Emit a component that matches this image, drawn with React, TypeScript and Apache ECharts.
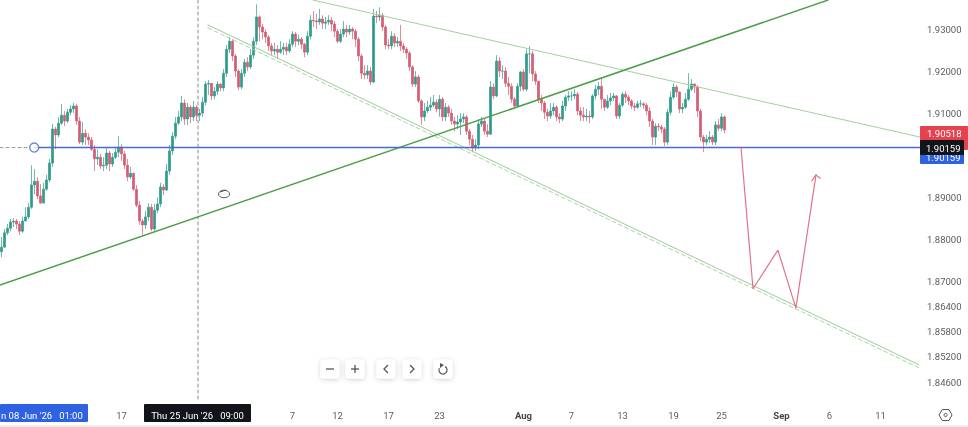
import React, { useEffect, useRef } from "react";
import * as echarts from "echarts";

const opens = [
  1.8770,1.8781,1.8815,1.8826,1.8841,1.8843,1.8836,1.8819,1.8843,1.8853,
  1.8876,1.8929,1.8938,1.8903,1.8886,1.8919,1.8941,1.8981,1.9062,1.9048,
  1.9076,1.9095,1.9081,1.9102,1.9110,1.9117,1.9081,1.9031,1.9052,1.9043,
  1.9036,1.9014,1.8991,1.8995,1.8974,1.8976,1.9005,1.8979,1.8995,1.9007,
  1.9019,1.9003,1.8976,1.8948,1.8957,1.8919,1.8881,1.8843,1.8834,1.8853,
  1.8876,1.8824,1.8869,1.8884,1.8924,1.8917,1.8962,1.9010,1.9045,1.9076,
  1.9091,1.9124,1.9086,1.9114,1.9091,1.9114,1.9095,1.9100,1.9126,1.9169,
  1.9171,1.9141,1.9152,1.9169,1.9160,1.9195,1.9252,1.9271,1.9236,1.9200,
  1.9162,1.9195,1.9221,1.9210,1.9238,1.9271,1.9329,1.9305,1.9293,1.9281,
  1.9260,1.9248,1.9252,1.9245,1.9252,1.9257,1.9248,1.9264,1.9288,1.9271,
  1.9276,1.9264,1.9245,1.9283,1.9321,1.9319,1.9317,1.9324,1.9314,1.9317,
  1.9321,1.9312,1.9295,1.9271,1.9288,1.9300,1.9293,1.9300,1.9295,1.9276,
  1.9236,1.9195,1.9191,1.9200,1.9174,1.9331,1.9329,1.9333,1.9305,1.9262,
  1.9260,1.9283,1.9267,1.9271,1.9260,1.9252,1.9243,1.9210,1.9169,1.9186,
  1.9129,1.9091,1.9105,1.9114,1.9119,1.9126,1.9110,1.9133,1.9091,1.9114,
  1.9100,1.9081,1.9074,1.9079,1.9086,1.9091,1.9057,1.9038,1.9017,1.9024,
  1.9074,1.9081,1.9057,1.9050,1.9162,1.9141,1.9224,1.9200,1.9200,1.9171,
  1.9164,1.9133,1.9117,1.9164,1.9198,1.9157,1.9241,1.9241,1.9193,1.9176,
  1.9133,1.9124,1.9102,1.9093,1.9105,1.9114,1.9091,1.9086,1.9117,1.9138,
  1.9141,1.9141,1.9145,1.9105,1.9095,1.9091,1.9093,1.9091,1.9141,1.9157,
  1.9164,1.9133,1.9114,1.9129,1.9136,1.9141,1.9093,1.9119,1.9145,1.9138,
  1.9129,1.9117,1.9114,1.9122,1.9122,1.9119,1.9105,1.9081,1.9043,1.9069,
  1.9067,1.9062,1.9031,1.9102,1.9138,1.9162,1.9150,1.9110,1.9114,1.9133,
  1.9157,1.9169,1.9162,1.9105,1.9043,1.9031,1.9038,1.9043,1.9031,1.9072,
  1.9064,1.9091,
];
const closes = [
  1.8781,1.8815,1.8826,1.8841,1.8843,1.8836,1.8819,1.8843,1.8853,1.8876,
  1.8929,1.8938,1.8903,1.8886,1.8919,1.8941,1.8981,1.9062,1.9048,1.9076,
  1.9095,1.9081,1.9102,1.9110,1.9117,1.9081,1.9031,1.9052,1.9043,1.9036,
  1.9014,1.8991,1.8995,1.8974,1.8976,1.9005,1.8979,1.8995,1.9007,1.9019,
  1.9003,1.8976,1.8948,1.8957,1.8919,1.8881,1.8843,1.8834,1.8853,1.8876,
  1.8824,1.8869,1.8884,1.8924,1.8917,1.8962,1.9010,1.9045,1.9076,1.9091,
  1.9124,1.9086,1.9114,1.9091,1.9114,1.9095,1.9100,1.9126,1.9169,1.9171,
  1.9141,1.9152,1.9169,1.9160,1.9195,1.9252,1.9271,1.9236,1.9200,1.9162,
  1.9195,1.9221,1.9210,1.9238,1.9271,1.9329,1.9305,1.9293,1.9281,1.9260,
  1.9248,1.9252,1.9245,1.9252,1.9257,1.9248,1.9264,1.9288,1.9271,1.9276,
  1.9264,1.9245,1.9283,1.9321,1.9319,1.9317,1.9324,1.9314,1.9317,1.9321,
  1.9312,1.9295,1.9271,1.9288,1.9300,1.9293,1.9300,1.9295,1.9276,1.9236,
  1.9195,1.9191,1.9200,1.9174,1.9331,1.9329,1.9333,1.9305,1.9262,1.9260,
  1.9283,1.9267,1.9271,1.9260,1.9252,1.9243,1.9210,1.9169,1.9186,1.9129,
  1.9091,1.9105,1.9114,1.9119,1.9126,1.9110,1.9133,1.9091,1.9114,1.9100,
  1.9081,1.9074,1.9079,1.9086,1.9091,1.9057,1.9038,1.9017,1.9024,1.9074,
  1.9081,1.9057,1.9050,1.9162,1.9141,1.9224,1.9200,1.9200,1.9171,1.9164,
  1.9133,1.9117,1.9164,1.9198,1.9157,1.9241,1.9241,1.9193,1.9176,1.9133,
  1.9124,1.9102,1.9093,1.9105,1.9114,1.9091,1.9086,1.9117,1.9138,1.9141,
  1.9141,1.9145,1.9105,1.9095,1.9091,1.9093,1.9091,1.9141,1.9157,1.9164,
  1.9133,1.9114,1.9129,1.9136,1.9141,1.9093,1.9119,1.9145,1.9138,1.9129,
  1.9117,1.9114,1.9122,1.9122,1.9119,1.9105,1.9081,1.9043,1.9069,1.9067,
  1.9062,1.9031,1.9102,1.9138,1.9162,1.9150,1.9110,1.9114,1.9133,1.9157,
  1.9169,1.9162,1.9105,1.9043,1.9031,1.9038,1.9043,1.9031,1.9072,1.9064,
  1.9091,1.9060,
];
const highs = [
  1.8805,1.8824,1.8836,1.8848,1.8850,1.8848,1.8843,1.8853,1.8876,1.8886,
  1.8976,1.8967,1.8948,1.8931,1.8934,1.8953,1.8991,1.9074,1.9067,1.9091,
  1.9122,1.9105,1.9110,1.9119,1.9124,1.9122,1.9091,1.9079,1.9062,1.9052,
  1.9043,1.9024,1.9014,1.9003,1.8995,1.9019,1.9010,1.9005,1.9019,1.9045,
  1.9026,1.9010,1.8991,1.8972,1.8955,1.8929,1.8891,1.8848,1.8867,1.8886,
  1.8884,1.8884,1.8900,1.8934,1.8931,1.8979,1.9024,1.9055,1.9091,1.9105,
  1.9141,1.9133,1.9124,1.9119,1.9129,1.9119,1.9110,1.9138,1.9176,1.9179,
  1.9171,1.9162,1.9176,1.9171,1.9205,1.9262,1.9281,1.9276,1.9241,1.9205,
  1.9205,1.9229,1.9233,1.9252,1.9281,1.9359,1.9333,1.9312,1.9300,1.9286,
  1.9267,1.9267,1.9262,1.9271,1.9267,1.9267,1.9276,1.9295,1.9293,1.9286,
  1.9281,1.9267,1.9295,1.9333,1.9343,1.9336,1.9348,1.9333,1.9329,1.9333,
  1.9329,1.9319,1.9300,1.9300,1.9319,1.9310,1.9310,1.9305,1.9300,1.9281,
  1.9241,1.9214,1.9214,1.9210,1.9348,1.9343,1.9352,1.9338,1.9310,1.9276,
  1.9295,1.9290,1.9281,1.9310,1.9267,1.9257,1.9248,1.9214,1.9200,1.9191,
  1.9133,1.9124,1.9129,1.9138,1.9143,1.9133,1.9143,1.9138,1.9124,1.9119,
  1.9110,1.9091,1.9095,1.9100,1.9100,1.9095,1.9062,1.9048,1.9038,1.9086,
  1.9091,1.9086,1.9074,1.9176,1.9171,1.9238,1.9233,1.9214,1.9210,1.9186,
  1.9171,1.9138,1.9171,1.9200,1.9205,1.9252,1.9260,1.9248,1.9200,1.9176,
  1.9143,1.9129,1.9110,1.9124,1.9124,1.9119,1.9100,1.9129,1.9143,1.9152,
  1.9152,1.9157,1.9150,1.9114,1.9114,1.9110,1.9105,1.9145,1.9167,1.9174,
  1.9186,1.9133,1.9143,1.9148,1.9148,1.9143,1.9124,1.9150,1.9152,1.9143,
  1.9133,1.9124,1.9129,1.9131,1.9126,1.9124,1.9114,1.9086,1.9076,1.9076,
  1.9072,1.9067,1.9110,1.9152,1.9171,1.9167,1.9152,1.9124,1.9148,1.9195,
  1.9181,1.9171,1.9167,1.9110,1.9048,1.9048,1.9057,1.9048,1.9081,1.9086,
  1.9100,1.9095,
];
const lows = [
  1.8757,1.8781,1.8810,1.8819,1.8829,1.8824,1.8810,1.8815,1.8843,1.8848,
  1.8872,1.8907,1.8895,1.8884,1.8886,1.8915,1.8936,1.8972,1.9014,1.9043,
  1.9072,1.9069,1.9076,1.9095,1.9100,1.9072,1.9026,1.9024,1.9024,1.9024,
  1.9010,1.8962,1.8976,1.8967,1.8962,1.8967,1.8962,1.8972,1.8991,1.8995,
  1.8986,1.8967,1.8938,1.8943,1.8915,1.8876,1.8834,1.8810,1.8824,1.8843,
  1.8819,1.8819,1.8862,1.8876,1.8905,1.8915,1.8953,1.9000,1.9038,1.9072,
  1.9081,1.9072,1.9072,1.9076,1.9081,1.9081,1.9081,1.9091,1.9119,1.9143,
  1.9131,1.9133,1.9143,1.9152,1.9152,1.9186,1.9243,1.9224,1.9186,1.9155,
  1.9157,1.9186,1.9200,1.9205,1.9229,1.9262,1.9271,1.9276,1.9267,1.9248,
  1.9238,1.9238,1.9229,1.9241,1.9238,1.9238,1.9243,1.9257,1.9257,1.9262,
  1.9252,1.9233,1.9238,1.9276,1.9305,1.9300,1.9310,1.9300,1.9300,1.9310,
  1.9295,1.9281,1.9267,1.9267,1.9281,1.9281,1.9286,1.9276,1.9257,1.9224,
  1.9181,1.9181,1.9181,1.9167,1.9171,1.9314,1.9319,1.9295,1.9252,1.9252,
  1.9252,1.9257,1.9257,1.9248,1.9243,1.9229,1.9200,1.9162,1.9162,1.9124,
  1.9072,1.9081,1.9100,1.9105,1.9114,1.9102,1.9091,1.9081,1.9081,1.9091,
  1.9072,1.9057,1.9062,1.9048,1.9076,1.9048,1.9024,1.9007,1.9010,1.9014,
  1.9067,1.9048,1.9043,1.9048,1.9133,1.9138,1.9186,1.9181,1.9162,1.9143,
  1.9124,1.9110,1.9114,1.9152,1.9152,1.9152,1.9195,1.9176,1.9167,1.9124,
  1.9105,1.9086,1.9081,1.9086,1.9095,1.9081,1.9076,1.9081,1.9105,1.9129,
  1.9129,1.9133,1.9095,1.9081,1.9081,1.9081,1.9076,1.9086,1.9133,1.9143,
  1.9110,1.9105,1.9110,1.9119,1.9129,1.9086,1.9086,1.9114,1.9124,1.9119,
  1.9110,1.9105,1.9110,1.9114,1.9110,1.9095,1.9067,1.9024,1.9024,1.9057,
  1.9052,1.9022,1.9024,1.9095,1.9133,1.9138,1.9100,1.9100,1.9110,1.9129,
  1.9152,1.9148,1.9091,1.9033,1.9007,1.9024,1.9029,1.9024,1.9024,1.9057,
  1.9057,1.9052,
];

const slotCount = 307;
const priceMin = 1.84125;
const priceMax = 1.93692;

const yTicks = [1.93, 1.92, 1.91, 1.89, 1.88, 1.87, 1.864, 1.858, 1.852, 1.846];
const xTickSlots = [40, 97, 112, 129, 146, 174, 190, 207, 224, 240, 260, 276, 293];
const xTickLabels = ["17", "7", "12", "17", "23", "Aug", "7", "13", "19", "25", "Sep", "6", "11"];

// annotations: [slot, price]
const risingLine = [[0, 1.8691], [276, 1.9369]];
const upperChannel = [[104.3, 1.9369], [306.7, 1.9043]];
const lowerChannel = [[69.3, 1.931], [306.3, 1.8501]];
const lowerDashed = [[69.3, 1.9303], [306.3, 1.8494]];
const levelLine = [[11.7, 1.9018], [307, 1.9018]];
const levelHandle = [[11.4, 1.9018]];
const crossH = [[0, 1.9018], [10, 1.9018]];
const crossV = [[66, 1.93692], [66, 1.84125]];
const forecast = [[247, 1.9018], [251, 1.8682], [259.3, 1.8774], [265.3, 1.8636], [272, 1.8953]];
const arrowHead = [[270.6, 1.8939], [272, 1.8953], [273.4, 1.8945]];

const redTag = "1.90518";
const levelTag = "1.90159";
const leftDateTag = "n 08 Jun '26   01:00";
const crossDateTag = "Thu 25 Jun '26   09:00";

const FONT = "Roboto, 'Liberation Sans', sans-serif";

function lineSeries(data: number[][], color: string, width: number, type: any = "solid", z = 3) {
  return {
    type: "line",
    xAxisIndex: 1,
    yAxisIndex: 0,
    data,
    showSymbol: false,
    symbol: "none",
    silent: true,
    z,
    lineStyle: { color, width, type, cap: "round" },
  };
}

function button(cx: number, cy: number) {
  return {
    type: "rect",
    z: 50,
    shape: { x: cx - 9.5, y: cy - 9.5, width: 19, height: 19, r: 3 },
    style: { fill: "#ffffff", shadowBlur: 5, shadowColor: "rgba(0,0,0,0.18)", shadowOffsetY: 1 },
  };
}
function tagRect(x: number, y: number, w: number, h: number, fill: string, z: number) {
  return { type: "rect", z, shape: { x, y, width: w, height: h, r: 1 }, style: { fill } };
}
function tagText(x: number, y: number, text: string, z: number, align = "left") {
  return {
    type: "text",
    z,
    x,
    y,
    style: { text, fill: "#ffffff", font: `9.5px ${FONT}`, textAlign: align, textVerticalAlign: "middle" },
  };
}
const icon = { stroke: "#555555", lineWidth: 1.3, fill: "none" };

export default function App() {
  const ref = useRef<HTMLDivElement>(null);
  useEffect(() => {
    document.body.style.margin = "0";
    const chart = echarts.init(ref.current!, undefined, { renderer: "svg" });
    const labelAt = new Map(xTickSlots.map((s, i) => [s, xTickLabels[i]]));
    chart.setOption({
      animation: false,
      backgroundColor: "#ffffff",
      grid: { left: 0, top: 0, width: 921, height: 402, containLabel: false },
      xAxis: [
        {
          type: "category",
          data: Array.from({ length: slotCount }, (_, i) => String(i)),
          boundaryGap: true,
          axisLine: { show: false },
          axisTick: { show: false },
          splitLine: { show: false },
          axisLabel: {
            interval: (i: number) => labelAt.has(i),
            margin: 8,
            color: "#5c5c5c",
            fontSize: 9.5,
            fontFamily: FONT,
            formatter: (_: string, i: number) => {
              const t = labelAt.get(i) ?? "";
              return t === "Aug" || t === "Sep" ? `{b|${t}}` : t;
            },
            rich: { b: { fontWeight: "bold", color: "#444444", fontSize: 9.5, fontFamily: FONT } },
          },
        },
        { type: "value", min: 0, max: slotCount, show: false },
      ],
      yAxis: {
        type: "value",
        position: "right",
        min: priceMin,
        max: priceMax,
        axisLine: { show: false },
        axisTick: { show: false },
        splitLine: { show: false },
        axisLabel: {
          customValues: yTicks,
          margin: 6,
          color: "#5c5c5c",
          fontSize: 9.5,
          fontFamily: FONT,
          formatter: (v: number) => v.toFixed(5),
        },
      },
      series: [
        {
          type: "candlestick",
          xAxisIndex: 0,
          yAxisIndex: 0,
          barWidth: 2,
          silent: true,
          z: 2,
          itemStyle: {
            color: "#2e9c8b",
            color0: "#d65c72",
            borderColor: "#2e9c8b",
            borderColor0: "#d65c72",
            borderWidth: 0.7,
          },
          data: closes.map((c, i) => [opens[i], c, lows[i], highs[i]]),
        },
        lineSeries(crossH, "#9a9a9a", 1, [3, 3], 1),
        lineSeries(crossV, "#8a8a8a", 1, [3, 3], 1),
        lineSeries(upperChannel, "#a5cf9f", 1),
        lineSeries(lowerChannel, "#9ccb97", 1),
        lineSeries(lowerDashed, "#a9d3a4", 1, [4, 3]),
        lineSeries(risingLine, "#4f9e4a", 1.5),
        lineSeries(levelLine, "#4b6cc6", 1.6, "solid", 4),
        lineSeries(forecast, "#e0738a", 1.2, "solid", 4),
        lineSeries(arrowHead, "#e0738a", 1.2, "solid", 4),
        {
          type: "scatter",
          xAxisIndex: 1,
          yAxisIndex: 0,
          data: levelHandle,
          symbol: "circle",
          symbolSize: 9,
          silent: true,
          z: 5,
          itemStyle: { color: "#ffffff", borderColor: "#4b6cc6", borderWidth: 1.4 },
        },
      ],
      graphic: [
        { type: "rect", z: 40, shape: { x: 0, y: 425, width: 968, height: 2 }, style: { fill: "#eeeeee" } },
        // crosshair cursor
        { type: "ellipse", z: 40, shape: { cx: 224, cy: 194, rx: 5.5, ry: 3.8 }, style: { fill: "#ffffff", stroke: "#555555", lineWidth: 1 } },
        { type: "line", z: 40, shape: { x1: 220, y1: 192, x2: 226, y2: 190 }, style: { stroke: "#555555", lineWidth: 1 } },
        // axis tags
        tagRect(920, 126, 48, 24, "#e5424f", 60),
        tagText(927, 133, redTag, 61),
        tagRect(920, 152, 44, 12, "#2f62e0", 62),
        tagText(926, 157.5, levelTag, 63),
        tagRect(920, 140, 44, 15, "#111418", 64),
        tagText(926, 148, levelTag, 65),
        tagRect(0, 404, 88, 18, "#2f62e0", 60),
        tagText(1, 415, leftDateTag, 61),
        tagRect(144, 404, 107, 18, "#111418", 60),
        tagText(197.5, 415, crossDateTag, 61, "center"),
        // chart buttons
        button(330, 369),
        button(355, 369),
        button(386, 369),
        button(412, 369),
        button(443, 369),
        { type: "line", z: 51, shape: { x1: 326, y1: 369, x2: 334, y2: 369 }, style: icon },
        { type: "line", z: 51, shape: { x1: 351, y1: 369, x2: 359, y2: 369 }, style: icon },
        { type: "line", z: 51, shape: { x1: 355, y1: 365, x2: 355, y2: 373 }, style: icon },
        { type: "polyline", z: 51, shape: { points: [[388, 365], [384, 369], [388, 373]] }, style: icon },
        { type: "polyline", z: 51, shape: { points: [[410, 365], [414, 369], [410, 373]] }, style: icon },
        { type: "arc", z: 51, shape: { cx: 443, cy: 370, r: 4, startAngle: -1.0, endAngle: 3.6, clockwise: true }, style: icon },
        { type: "polygon", z: 51, shape: { points: [[440, 363], [444, 365], [440, 368]] }, style: { fill: "#555555" } },
        // settings icon
        {
          type: "polygon",
          z: 40,
          shape: { points: [[939, 415], [942.3, 409.5], [949, 409.5], [952, 415], [949, 420.5], [942.3, 420.5]] },
          style: { fill: "none", stroke: "#555555", lineWidth: 1 },
        },
        { type: "circle", z: 40, shape: { cx: 945.6, cy: 415, r: 1.6 }, style: { fill: "none", stroke: "#555555", lineWidth: 1 } },
      ],
    });
    return () => chart.dispose();
  }, []);
  return (
    <div
      ref={ref}
      style={{ position: "absolute", left: 0, top: 0, width: 968, height: 427, filter: "blur(0.6px)" }}
    />
  );
}
